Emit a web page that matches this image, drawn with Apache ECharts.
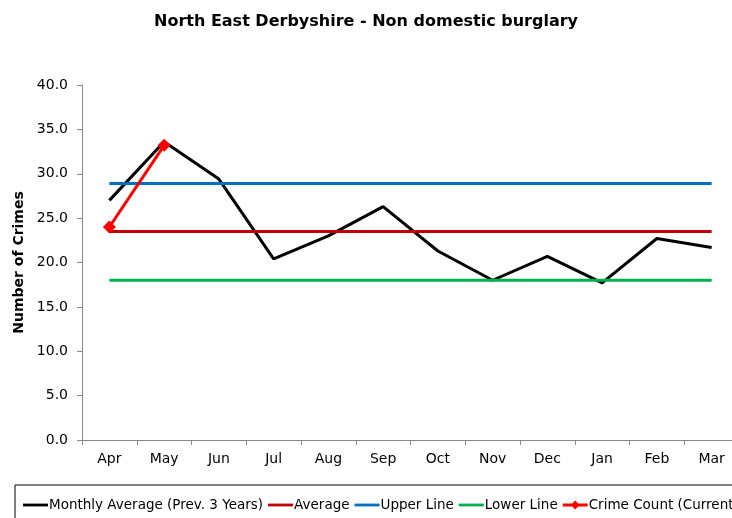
<!DOCTYPE html>
<html>
<head>
<meta charset="utf-8">
<script src="https://cdn.jsdelivr.net/npm/echarts@6/dist/echarts.min.js"></script>
<style>
  html, body { margin: 0; padding: 0; background: #fff; overflow: hidden; }
  #chart { width: 732px; height: 518px; }
</style>
</head>
<body>
<div id="chart"></div>
<script>
// chart data
const months = ['Apr', 'May', 'Jun', 'Jul', 'Aug', 'Sep', 'Oct', 'Nov', 'Dec', 'Jan', 'Feb', 'Mar'];
const monthlyAverage = [27.0, 33.6, 29.4, 20.4, 23.0, 26.3, 21.3, 18.0, 20.7, 17.7, 22.7, 21.7];
const averageLine = [23.5, 23.5, 23.5, 23.5, 23.5, 23.5, 23.5, 23.5, 23.5, 23.5, 23.5, 23.5];
const upperLine = [28.9, 28.9, 28.9, 28.9, 28.9, 28.9, 28.9, 28.9, 28.9, 28.9, 28.9, 28.9];
const lowerLine = [18.0, 18.0, 18.0, 18.0, 18.0, 18.0, 18.0, 18.0, 18.0, 18.0, 18.0, 18.0];
const crimeCount = [24.0, 33.2];

const chart = echarts.init(document.getElementById('chart'));

const font = 'DejaVu Sans, Verdana, sans-serif';

// legend icons: a thin bar (bbox padded to 25x10) and a bar with a diamond
const lineIcon = 'path://M0,0 M25,10 M0,3.6 L25,3.6 L25,6.4 L0,6.4 Z';
const diamondIcon = 'path://M0,3.6 L25,3.6 L25,6.4 L0,6.4 Z M12.5,0.5 L17,5 L12.5,9.5 L8,5 Z';

// plain line series helper
const plainLine = (name, data, color) => ({
  name,
  type: 'line',
  data,
  symbol: 'none',
  lineStyle: { width: 3, color },
  itemStyle: { color }
});

const option = {
  animation: false,
  textStyle: { fontFamily: font },
  title: {
    text: 'North East Derbyshire - Non domestic burglary',
    left: 'center',
    top: 9,
    textStyle: { fontSize: 16, fontWeight: 'bold', color: '#000', fontFamily: font }
  },
  legend: {
    left: 15,
    top: 485,
    width: 900,
    padding: [13, 40, 16, 8],
    borderColor: '#000',
    borderWidth: 1,
    itemWidth: 25,
    itemHeight: 10,
    itemGap: 5,
    textStyle: { fontSize: 13.5, color: '#000', fontFamily: font, padding: [0, 0, 0, -4] },
    data: [
      { name: 'Monthly Average (Prev. 3 Years)', icon: lineIcon },
      { name: 'Average', icon: lineIcon },
      { name: 'Upper Line', icon: lineIcon },
      { name: 'Lower Line', icon: lineIcon },
      { name: 'Crime Count (Current)', icon: diamondIcon }
    ]
  },
  grid: {
    left: 82,
    width: 657,
    top: 85,
    height: 355,
    outerBoundsMode: 'none'
  },
  xAxis: {
    type: 'category',
    data: months,
    boundaryGap: true,
    axisLine: { lineStyle: { color: '#888', width: 1 } },
    axisTick: { show: true, length: 5, lineStyle: { color: '#888' } },
    axisLabel: { color: '#000', fontSize: 14, margin: 12, fontFamily: font }
  },
  yAxis: {
    type: 'value',
    min: 0,
    max: 40,
    interval: 5,
    name: 'Number of Crimes',
    nameLocation: 'middle',
    nameGap: 55,
    nameTextStyle: { fontSize: 14, fontWeight: 'bold', color: '#000', fontFamily: font },
    axisLine: { show: true, lineStyle: { color: '#888', width: 1 } },
    axisTick: { show: true, length: 5, lineStyle: { color: '#888' } },
    splitLine: { show: false },
    axisLabel: {
      color: '#000',
      fontSize: 14,
      margin: 14,
      fontFamily: font,
      formatter: v => v.toFixed(1)
    }
  },
  series: [
    plainLine('Monthly Average (Prev. 3 Years)', monthlyAverage, '#000000'),
    plainLine('Average', averageLine, '#c00000'),
    plainLine('Upper Line', upperLine, '#0070c0'),
    plainLine('Lower Line', lowerLine, '#00b050'),
    {
      name: 'Crime Count (Current)',
      type: 'line',
      data: crimeCount,
      symbol: 'diamond',
      symbolSize: 13,
      lineStyle: { width: 3, color: '#ff0000' },
      itemStyle: { color: '#ff0000' },
      z: 5
    }
  ]
};

chart.setOption(option);
</script>
</body>
</html>
